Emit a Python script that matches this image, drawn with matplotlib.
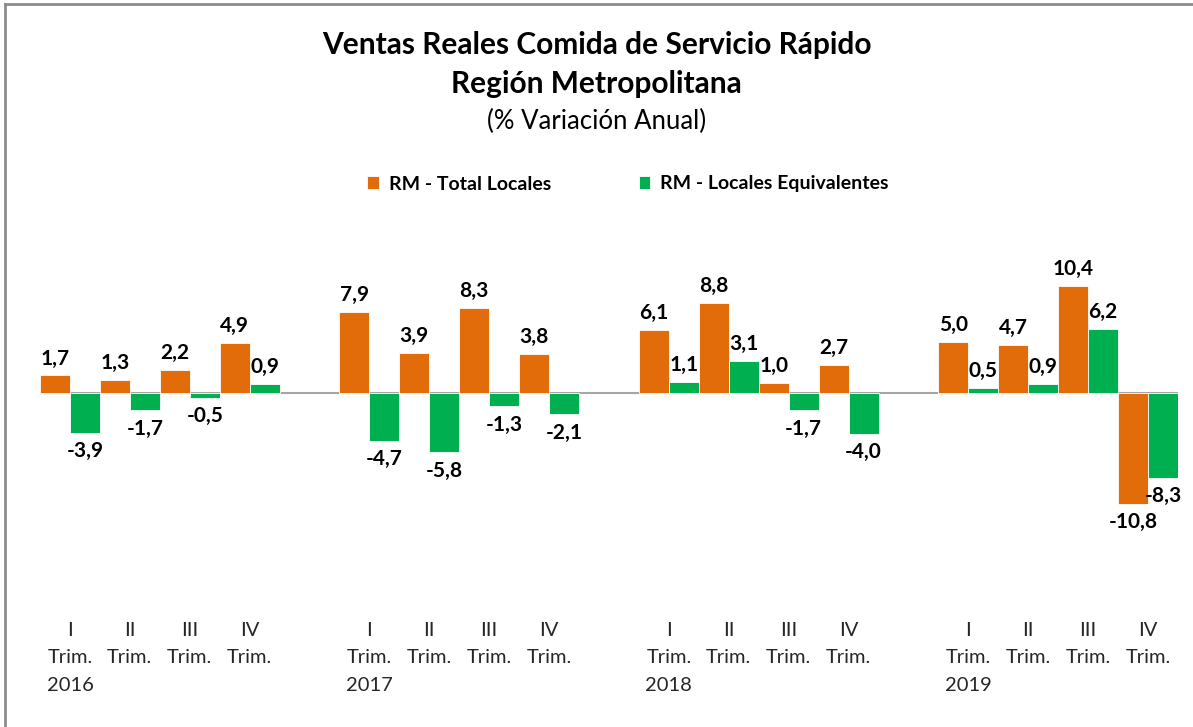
import numpy as np
import matplotlib
matplotlib.use("Agg")
import matplotlib.pyplot as plt
from matplotlib.lines import Line2D

plt.rcParams["font.family"] = ["Lato", "DejaVu Sans"]

orange = "#E36C0A"
green = "#00B050"

years = ["2016", "2017", "2018", "2019"]
quarters = ["I", "II", "III", "IV"]
total_locales = [1.7, 1.3, 2.2, 4.9,
                 7.9, 3.9, 8.3, 3.8,
                 6.1, 8.8, 1.0, 2.7,
                 5.0, 4.7, 10.4, -10.8]
locales_equiv = [-3.9, -1.7, -0.5, 0.9,
                 -4.7, -5.8, -1.3, -2.1,
                 1.1, 3.1, -1.7, -4.0,
                 0.5, 0.9, 6.2, -8.3]


def fmt(v):
    return f"{v:.1f}".replace(".", ",")


W, H = 1193, 727
fig = plt.figure(figsize=(W / 100, H / 100), dpi=100)
ax = fig.add_axes([40 / W, (H - 598) / H, 1138 / W, 359 / H])

# one blank slot between years
pos = []
labels = []
for yi, yr in enumerate(years):
    for qi, q in enumerate(quarters):
        pos.append(yi * 5 + qi)
        labels.append(f"{q}\nTrim.\n{yr}" if qi == 0 else f"{q}\nTrim.\n")
pos = np.array(pos)

bw = 0.5
b1 = ax.bar(pos - bw / 2, total_locales, bw, color=orange, edgecolor="white",
            linewidth=0.6, label="RM - Total Locales")
b2 = ax.bar(pos + bw / 2, locales_equiv, bw, color=green, edgecolor="white",
            linewidth=0.6, label="RM - Locales Equivalentes")

for bars, vals in ((b1, total_locales), (b2, locales_equiv)):
    for b, v in zip(bars, vals):
        x = b.get_x() + b.get_width() / 2
        if v >= 0:
            ax.annotate(fmt(v), (x, v), xytext=(0, 5), textcoords="offset points",
                        ha="center", va="bottom", fontsize=15, fontweight="bold")
        else:
            ax.annotate(fmt(v), (x, v), xytext=(0, -6), textcoords="offset points",
                        ha="center", va="top", fontsize=15, fontweight="bold")

ax.axhline(0, color="#A6A6A6", linewidth=1.5, zorder=0)
ax.set_xlim(-0.5, 18.5)
ax.set_ylim(-20, 15)
ax.set_yticks([])
ax.set_xticks(pos)
ax.set_xticklabels(labels, fontsize=14.5, color="#262626", linespacing=1.75)
ax.tick_params(axis="x", length=0, pad=17)
for s in ax.spines.values():
    s.set_visible(False)

fig.text(0.5, (H - 45) / H, "Ventas Reales Comida de Servicio Rápido",
         ha="center", va="center", fontsize=21.5, fontweight="bold")
fig.text(0.5, (H - 84) / H, "Región Metropolitana",
         ha="center", va="center", fontsize=21.5, fontweight="bold")
fig.text(0.5, (H - 121) / H, "(% Variación Anual)",
         ha="center", va="center", fontsize=18.5)

fig.legend(handles=[b1, b2], loc="center", bbox_to_anchor=(628 / W, (H - 184) / H),
           ncol=2, frameon=False, handlelength=0.6, handleheight=0.6,
           columnspacing=4.5, handletextpad=0.5,
           prop={"size": 14, "weight": "bold"})

fig.add_artist(Line2D([5 / W, 5 / W], [0, (H - 4) / H], transform=fig.transFigure,
                      color="#8C8C8C", linewidth=2))
fig.add_artist(Line2D([5 / W, 1], [(H - 4) / H, (H - 4) / H], transform=fig.transFigure,
                      color="#8C8C8C", linewidth=2))

fig.savefig("out.png", dpi=100)
